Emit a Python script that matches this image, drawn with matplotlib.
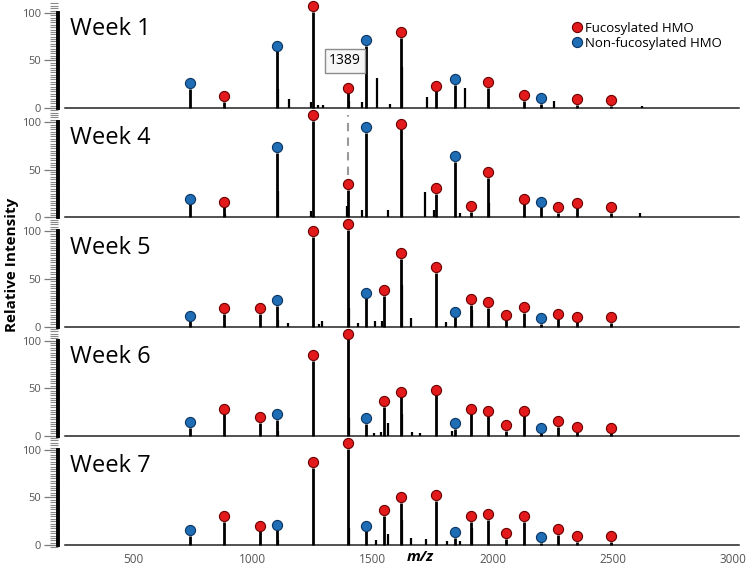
import matplotlib.pyplot as plt
from matplotlib.ticker import MultipleLocator
from matplotlib.lines import Line2D

plt.rcParams['font.family'] = ['Open Sans', 'DejaVu Sans']

# panel names, top to bottom
weeks = ["Week 1", "Week 4", "Week 5", "Week 6", "Week 7"]

# labelled peaks: (m/z, relative intensity)
week1_fuc = [(880, 5), (1250, 100), (1396, 14), (1617, 72), (1763, 16),
             (1980, 20), (2130, 6), (2350, 2), (2492, 1)]
week1_nonfuc = [(738, 19), (1100, 58), (1471, 64), (1842, 23), (2200, 3)]
week1_minor = [(1104, 20), (1150, 10), (1242, 6), (1271, 3), (1292, 3),
               (1401, 7), (1455, 6), (1517, 32), (1571, 4), (1621, 43),
               (1725, 12), (1884, 21), (2255, 7), (2621, 2)]

week4_fuc = [(880, 9), (1250, 100), (1396, 27), (1617, 91), (1763, 23),
             (1909, 4), (1980, 40), (2130, 12), (2271, 3), (2350, 8), (2492, 3)]
week4_nonfuc = [(738, 12), (1100, 66), (1471, 87), (1842, 57), (2200, 9)]
week4_minor = [(885, 3), (1104, 28), (1242, 7), (1392, 12), (1455, 8),
               (1563, 8), (1621, 60), (1717, 27), (1755, 8), (1863, 5),
               (1984, 15), (2613, 5)]

week5_fuc = [(880, 12), (1030, 12), (1250, 93), (1396, 100), (1546, 31),
             (1617, 70), (1763, 55), (1909, 21), (1980, 18), (2055, 5),
             (2130, 13), (2271, 6), (2350, 3), (2492, 2)]
week5_nonfuc = [(738, 4), (1100, 20), (1471, 28), (1842, 8), (2200, 1)]
week5_minor = [(1104, 7), (1146, 4), (1275, 3), (1288, 6), (1400, 19),
               (1438, 4), (1509, 6), (1538, 6), (1621, 44), (1659, 9),
               (1805, 5), (1913, 17)]

week6_fuc = [(880, 21), (1030, 12), (1250, 77), (1396, 100), (1546, 29),
             (1617, 39), (1763, 41), (1909, 21), (1980, 19), (2055, 4),
             (2130, 19), (2271, 8), (2350, 2), (2492, 1)]
week6_nonfuc = [(738, 7), (1100, 15), (1471, 11), (1842, 6), (2200, 1)]
week6_minor = [(1104, 5), (1400, 19), (1504, 3), (1532, 4), (1563, 13),
               (1621, 23), (1663, 4), (1696, 3), (1830, 5)]

week7_fuc = [(880, 23), (1030, 13), (1250, 80), (1396, 100), (1546, 29),
             (1617, 43), (1763, 45), (1909, 23), (1980, 25), (2055, 5),
             (2130, 23), (2271, 9), (2350, 2), (2492, 2)]
week7_nonfuc = [(738, 8), (1100, 14), (1471, 13), (1842, 6), (2200, 1)]
week7_minor = [(1104, 5), (1400, 18), (1513, 5), (1563, 12), (1621, 26),
               (1659, 7), (1721, 6), (1808, 4), (1863, 4), (1913, 18)]

fuc_peaks = [week1_fuc, week4_fuc, week5_fuc, week6_fuc, week7_fuc]
nonfuc_peaks = [week1_nonfuc, week4_nonfuc, week5_nonfuc, week6_nonfuc, week7_nonfuc]
minor_peaks = [week1_minor, week4_minor, week5_minor, week6_minor, week7_minor]

x_ticks = [500, 1000, 1500, 2000, 2500, 3000]
annot_mz = 1389

red = '#e31a1c'
blue = '#1f6db5'

fig = plt.figure(figsize=(7.5, 5.68), dpi=100)
W, H = 750, 568
axes = []
for i, name in enumerate(weeks):
    zero_px = 108 + i * 109.25
    bottom = (H - (zero_px + 4)) / H
    ax = fig.add_axes([58 / W, bottom, 682 / W, 109 / H])
    axes.append(ax)
    ax.set_xlim(188, 3030)
    ax.set_ylim(-4.2, 110.5)

    # baseline of the spectrum
    ax.plot([217, 3025], [0, 0], color='#222222', lw=1.1, zorder=2)

    for mz, h in minor_peaks[i]:
        ax.vlines(mz, 0, h, color='black', lw=1.6, zorder=3)
    for peaks, col, edge in [(fuc_peaks[i], red, '#6b0000'),
                             (nonfuc_peaks[i], blue, '#0b3563')]:
        for mz, h in peaks:
            ax.vlines(mz, 0, h + 1.5, color='black', lw=2.0, zorder=3)
            ax.plot(mz, h + 7.5, 'o', ms=7.3, mfc=col, mec=edge, mew=0.8,
                    clip_on=False, zorder=6)

    for s in ['top', 'right', 'bottom']:
        ax.spines[s].set_visible(False)
    ax.spines['left'].set_bounds(0, 100)
    ax.spines['left'].set_linewidth(2.8)
    ax.set_yticks([0, 50, 100])
    ax.yaxis.set_minor_locator(MultipleLocator(2.5))
    ax.tick_params(axis='y', which='major', length=10, width=0.9,
                   color='#7a7a7a', labelcolor='#555555', labelsize=8, pad=2)
    ax.tick_params(axis='y', which='minor', length=6, width=0.8, color='#8a8a8a')
    ax.patch.set_alpha(0)

    ax.text(0.018, 0.705, name, transform=ax.transAxes, fontsize=17,
            va='baseline', ha='left')

    if i < len(weeks) - 1:
        ax.set_xticks([])
    else:
        ax.set_xticks(x_ticks)
        ax.tick_params(axis='x', length=0, labelcolor='#555555',
                       labelsize=8.5, pad=3)

# legend in the top panel
handles = [Line2D([], [], ls='', marker='o', ms=7.3, mfc=red, mec='#6b0000', mew=0.8),
           Line2D([], [], ls='', marker='o', ms=7.3, mfc=blue, mec='#0b3563', mew=0.8)]
axes[0].legend(handles, ['Fucosylated HMO', 'Non-fucosylated HMO'],
               loc='upper left', bbox_to_anchor=(0.752, 0.83), frameon=False,
               fontsize=9.5, handletextpad=0.1, labelspacing=0.15,
               handlelength=1.0, borderpad=0, borderaxespad=0)

# 1389 label and dashed guide
axes[0].text(1384, 49.5, str(annot_mz), ha='center', va='center', fontsize=10,
             zorder=7, bbox=dict(boxstyle='square,pad=0.3', fc='#f7f7f7',
                                 ec='#8c8c8c', lw=1))
axes[1].vlines(1396, 44, 108, colors='#999999', linestyles=(0, (4, 3)),
               lw=1.5, zorder=4)

fig.text(12 / W, (H - 265) / H, 'Relative Intensity', rotation=90,
         fontsize=11, weight='bold', ha='center', va='center')
fig.text(420 / W, (H - 557) / H, 'm/z', fontsize=11, style='italic',
         weight='bold', ha='center', va='center')

fig.savefig('out.png', dpi=100)
